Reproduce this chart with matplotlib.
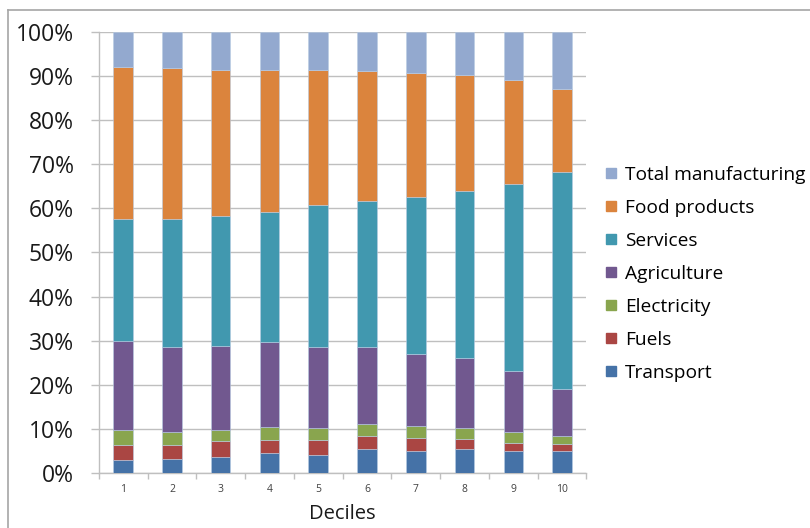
import numpy as np
import matplotlib
matplotlib.use("Agg")
import matplotlib.pyplot as plt
from matplotlib.lines import Line2D
from matplotlib.ticker import PercentFormatter, FixedLocator

plt.rcParams['font.family'] = ['Open Sans', 'DejaVu Sans']

deciles = ["1", "2", "3", "4", "5", "6", "7", "8", "9", "10"]

# cumulative tops of each stacked layer, in percent
transport_top = [2.9, 3.2, 3.7, 4.5, 4.2, 5.4, 5.1, 5.4, 4.9, 5.1]
fuels_top = [6.4, 6.3, 7.2, 7.6, 7.6, 8.5, 7.9, 7.8, 6.9, 6.6]
electricity_top = [9.8, 9.4, 9.8, 10.5, 10.3, 11.2, 10.6, 10.3, 9.4, 8.3]
agriculture_top = [30.0, 28.5, 28.9, 29.7, 28.5, 28.5, 26.9, 26.0, 23.2, 19.1]
services_top = [57.5, 57.5, 58.3, 59.2, 60.8, 61.7, 62.5, 64.0, 65.5, 68.2]
food_top = [91.9, 91.8, 91.4, 91.3, 91.3, 91.0, 90.6, 90.1, 89.1, 87.0]
manufacturing_top = [100.0] * 10

series_names = ["Transport", "Fuels", "Electricity", "Agriculture",
                "Services", "Food products", "Total manufacturing"]
series_colors = ["#4572A7", "#AA4643", "#89A54E", "#71588F",
                 "#4198AF", "#DB843D", "#93A9CF"]

tops = np.array([transport_top, fuels_top, electricity_top, agriculture_top,
                 services_top, food_top, manufacturing_top])
shares = np.diff(np.vstack([np.zeros(len(deciles)), tops]), axis=0)

fig = plt.figure(figsize=(8.10, 5.28), dpi=100)
ax = fig.add_axes([0.122, 0.104, 0.602, 0.836])

x = np.arange(1, len(deciles) + 1)
bottom = np.zeros(len(deciles))
handles = []
for name, color, vals in zip(series_names, series_colors, shares):
    ax.bar(x, vals, width=0.4, bottom=bottom, color=color,
           edgecolor="#B8CCE4", linewidth=0.4, zorder=3, label=name)
    bottom += vals
    handles.append(Line2D([], [], marker="s", linestyle="none",
                          markersize=7, color=color, label=name))

ax.set_xlim(0.5, len(deciles) + 0.5)
ax.set_ylim(0, 100)
ax.set_yticks(np.arange(0, 101, 10))
ax.yaxis.set_major_formatter(PercentFormatter(decimals=0))
ax.grid(axis="y", color="#BFBFBF", linewidth=1.0, zorder=0)

ax.set_xticks(x)
ax.set_xticklabels(deciles, fontsize=7.5, color="#404040")
ax.xaxis.set_minor_locator(FixedLocator(np.arange(0.5, len(deciles) + 1, 1)))
ax.tick_params(axis="x", which="major", length=0, pad=8)
ax.tick_params(axis="x", which="minor", length=4, color="#BFBFBF", width=1)
ax.tick_params(axis="y", length=6, color="#BFBFBF", width=1,
               labelsize=16.5, pad=12, labelcolor="#1a1a1a")

for side in ["top", "right"]:
    ax.spines[side].set_visible(False)
for side in ["left", "bottom"]:
    ax.spines[side].set_color("#BFBFBF")
    ax.spines[side].set_linewidth(1.0)

ax.set_xlabel("Deciles", fontsize=14.5, color="#1a1a1a", labelpad=6)

leg = fig.legend(handles=handles[::-1], loc="center left",
                 bbox_to_anchor=(0.743, 0.481), frameon=False,
                 fontsize=13.8, handletextpad=0.2, handlelength=1.0,
                 labelspacing=0.78, borderaxespad=0, borderpad=0)

# outer chart frame
fig.add_artist(Line2D([8 / 810, 1.0], [1 - 10 / 528, 1 - 10 / 528],
                      transform=fig.transFigure, color="#A6A6A6", linewidth=1.2))
fig.add_artist(Line2D([8 / 810, 8 / 810], [0.0, 1 - 10 / 528],
                      transform=fig.transFigure, color="#A6A6A6", linewidth=1.2))

fig.savefig("out.png", dpi=100)
